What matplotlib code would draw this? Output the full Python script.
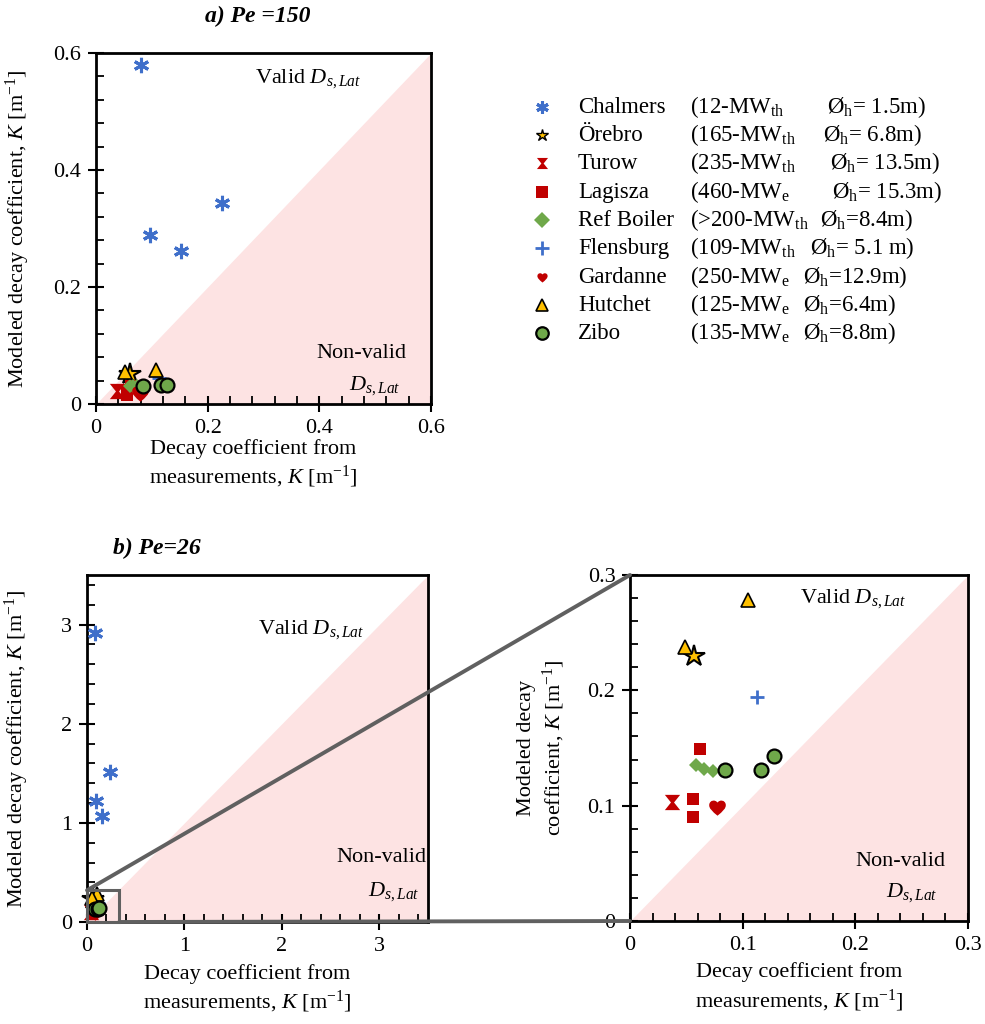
import numpy as np
import matplotlib
matplotlib.use("Agg")
import matplotlib.pyplot as plt
from matplotlib.path import Path
from matplotlib.patches import Rectangle, ConnectionPatch
from matplotlib.ticker import MultipleLocator, FuncFormatter

plt.rcParams['font.family'] = ['Liberation Serif', 'DejaVu Serif']
plt.rcParams['mathtext.fontset'] = 'custom'
plt.rcParams['mathtext.rm'] = 'Liberation Serif'
plt.rcParams['mathtext.it'] = 'Liberation Serif:italic'
plt.rcParams['mathtext.bf'] = 'Liberation Serif:bold'

# ---- data ----
plants = ['Chalmers', 'Örebro', 'Turow', 'Lagisza', 'Ref Boiler',
          'Flensburg', 'Gardanne', 'Hutchet', 'Zibo']
power = ['(12-MW$_{\\mathrm{th}}$', '(165-MW$_{\\mathrm{th}}$', '(235-MW$_{\\mathrm{th}}$',
         '(460-MW$_{\\mathrm{e}}$', '(>200-MW$_{\\mathrm{th}}$', '(109-MW$_{\\mathrm{th}}$',
         '(250-MW$_{\\mathrm{e}}$', '(125-MW$_{\\mathrm{e}}$', '(135-MW$_{\\mathrm{e}}$']
diam = ['Ø$_{\\mathrm{h}}$= 1.5m)', 'Ø$_{\\mathrm{h}}$= 6.8m)', 'Ø$_{\\mathrm{h}}$= 13.5m)',
        'Ø$_{\\mathrm{h}}$= 15.3m)', 'Ø$_{\\mathrm{h}}$=8.4m)', 'Ø$_{\\mathrm{h}}$= 5.1 m)',
        'Ø$_{\\mathrm{h}}$=12.9m)', 'Ø$_{\\mathrm{h}}$=6.4m)', 'Ø$_{\\mathrm{h}}$=8.8m)']

# Pe = 150 (one list per plant, same order as plants)
pe150_x = [[0.081, 0.225, 0.096, 0.152],
           [0.061],
           [0.038],
           [0.055, 0.055, 0.062],
           [0.060, 0.067, 0.074],
           [0.112],
           [0.078],
           [0.052, 0.108],
           [0.085, 0.116, 0.128]]
pe150_y = [[0.579, 0.343, 0.289, 0.262],
           [0.052],
           [0.022],
           [0.024, 0.016, 0.030],
           [0.030, 0.030, 0.031],
           [0.044],
           [0.018],
           [0.055, 0.058],
           [0.031, 0.032, 0.033]]

# Pe = 26
pe26_x = [[0.078, 0.232, 0.092, 0.154],
          [0.0565],
          [0.037],
          [0.0557, 0.0557, 0.0617],
          [0.0585, 0.066, 0.074],
          [0.113],
          [0.077],
          [0.105, 0.049],
          [0.084, 0.116, 0.128]]
pe26_y = [[2.92, 1.51, 1.22, 1.07],
          [0.230],
          [0.1035],
          [0.106, 0.090, 0.149],
          [0.135, 0.132, 0.130],
          [0.194],
          [0.0985],
          [0.278, 0.238],
          [0.131, 0.131, 0.143]]

# ---- styles ----
BLUE = '#3f6fca'
RED = '#c00000'
GREEN = '#6fa84a'
GOLD = '#ffc000'
PINK = '#fde3e3'
GRAY = '#606060'

hourglass = [(-1, 1), (1, 1), (0.2, 0), (1, -1), (-1, -1), (-0.2, 0), (-1, 1)]
heart = Path([(0, -1),
              (-0.6, -0.5), (-1.1, -0.1), (-1.0, 0.4),
              (-0.9, 0.9), (-0.3, 1.0), (0, 0.6),
              (0.3, 1.0), (0.9, 0.9), (1.0, 0.4),
              (1.1, -0.1), (0.6, -0.5), (0, -1),
              (0, -1)],
             [Path.MOVETO] + [Path.CURVE4] * 12 + [Path.CLOSEPOLY])

styles = [
    dict(marker=(6, 2, 0), color=BLUE, ms=11, mew=2.2),
    dict(marker='*', mfc=GOLD, mec='black', ms=16, mew=1.5),
    dict(marker=hourglass, color=RED, ms=11, mew=0),
    dict(marker='s', color=RED, ms=9, mew=0),
    dict(marker='D', color=GREEN, ms=7.5, mew=0),
    dict(marker='+', color=BLUE, ms=10, mew=2),
    dict(marker=heart, color=RED, ms=13, mew=0),
    dict(marker='^', mfc=GOLD, mec='black', ms=10, mew=1.2),
    dict(marker='o', mfc=GREEN, mec='black', ms=10, mew=1.6),
]
legend_ms = [9, 9, 8, 8, 8, 10, 8, 9, 9]

W, H = 985, 1024
fig = plt.figure(figsize=(W / 100, H / 100), dpi=100)


def fig_box(left, top, right, bottom):
    return [left / W, 1 - bottom / H, (right - left) / W, (bottom - top) / H]


def style_axes(ax, lim, major, minor):
    ax.set_xlim(0, lim)
    ax.set_ylim(0, lim)
    ax.fill_between([0, lim], [0, lim], 0, color=PINK, lw=0, zorder=0)
    for s in ax.spines.values():
        s.set_linewidth(2)
        s.set_color('black')
    for axis in (ax.xaxis, ax.yaxis):
        axis.set_major_locator(MultipleLocator(major))
        axis.set_minor_locator(MultipleLocator(minor))
        axis.set_major_formatter(FuncFormatter(lambda v, p: '%g' % round(v, 6)))
    ax.tick_params(which='major', direction='inout', length=11, width=1.5,
                   labelsize=16, pad=5)
    ax.tick_params(which='minor', direction='in', length=6, width=1.3)


def draw_points(ax, xs, ys):
    for i in range(len(plants)):
        ax.plot(xs[i], ys[i], ls='none', zorder=3, clip_on=False, **styles[i])


def valid_labels(ax, valid_xy, non_xy, d_xy):
    ax.text(*valid_xy, 'Valid $D_{s,Lat}$', fontsize=16, ha='center', va='center', zorder=4)
    ax.text(*non_xy, 'Non-valid', fontsize=16, ha='center', va='center', zorder=4)
    ax.text(*d_xy, '$D_{s,Lat}$', fontsize=16, ha='center', va='center', zorder=4)


ylab = 'Modeled decay coefficient, $K$ [m$^{-1}$]'
xlab = 'Decay coefficient from\nmeasurements, $K$ [m$^{-1}$]'

# a) Pe = 150
ax_a = fig.add_axes(fig_box(96, 53, 431, 404))
style_axes(ax_a, 0.6, 0.2, 0.04)
draw_points(ax_a, pe150_x, pe150_y)
valid_labels(ax_a, (0.38, 0.556), (0.475, 0.086), (0.50, 0.032))
ax_a.set_ylabel(ylab, fontsize=16)
ax_a.yaxis.set_label_coords(-0.19, 0.5)
ax_a.set_xlabel(xlab, fontsize=16, linespacing=1.25)
ax_a.xaxis.set_label_coords(0.47, -0.1)

# b) Pe = 26, full range
ax_b = fig.add_axes(fig_box(87, 575, 428, 922))
style_axes(ax_b, 3.5, 1, 0.2)
draw_points(ax_b, pe26_x, pe26_y)
valid_labels(ax_b, (2.3, 2.95), (3.02, 0.65), (3.15, 0.31))
ax_b.set_ylabel(ylab, fontsize=16)
ax_b.yaxis.set_label_coords(-0.165, 0.5)
ax_b.set_xlabel(xlab, fontsize=16, linespacing=1.25)
ax_b.xaxis.set_label_coords(0.47, -0.12)

# b) zoomed view
zoom_lim = 0.3
ax_z = fig.add_axes(fig_box(630, 575, 968, 921))
style_axes(ax_z, zoom_lim, 0.1, 0.02)
draw_points(ax_z, pe26_x, pe26_y)
for ln in ax_z.lines:
    ln.set_clip_on(True)
valid_labels(ax_z, (0.198, 0.28), (0.24, 0.052), (0.25, 0.025))
ax_z.set_ylabel('Modeled decay\ncoefficient, $K$ [m$^{-1}$]', fontsize=16, linespacing=1.25)
ax_z.yaxis.set_label_coords(-0.185, 0.5)
ax_z.set_xlabel(xlab, fontsize=16, linespacing=1.25)
ax_z.xaxis.set_label_coords(0.5, -0.12)

# zoom box and connectors
box_w, box_h = 0.33, 0.32
ax_b.add_patch(Rectangle((0, 0), box_w, box_h, fill=False, ec=GRAY, lw=2.2,
                         zorder=5, clip_on=False))
fig.add_artist(ConnectionPatch(xyA=(0, box_h), coordsA=ax_b.transData,
                               xyB=(0, zoom_lim), coordsB=ax_z.transData,
                               color=GRAY, lw=2.8, zorder=6))
fig.add_artist(ConnectionPatch(xyA=(box_w, 0), coordsA=ax_b.transData,
                               xyB=(0, 0), coordsB=ax_z.transData,
                               color=GRAY, lw=2.8, zorder=1))

# titles
fig.text(258 / W, 1 - 16 / H, 'a) Pe =150', fontsize=17, fontweight='bold',
         fontstyle='italic', ha='center', va='center')
fig.text(113 / W, 1 - 548 / H, 'b) Pe=26', fontsize=17, fontweight='bold',
         fontstyle='italic', ha='left', va='center')

# legend
leg = fig.add_axes([0, 0, 1, 1])
leg.set_xlim(0, W)
leg.set_ylim(H, 0)
leg.axis('off')
leg.patch.set_visible(False)
omega_x = [827, 823, 830, 832, 820, 810, 803, 803, 803]
for i, name in enumerate(plants):
    y = 106.7 + i * 28.33
    st = dict(styles[i])
    st['ms'] = legend_ms[i]
    if i == 1:
        st['mew'] = 1.0
    leg.plot([541.7], [y], ls='none', **st)
    leg.text(578, y + 6, name, fontsize=16.5, va='baseline', ha='left')
    leg.text(690, y + 6, power[i], fontsize=16.5, va='baseline', ha='left')
    leg.text(omega_x[i], y + 6, diam[i], fontsize=16.5, va='baseline', ha='left')

fig.savefig('out.png', dpi=100)
